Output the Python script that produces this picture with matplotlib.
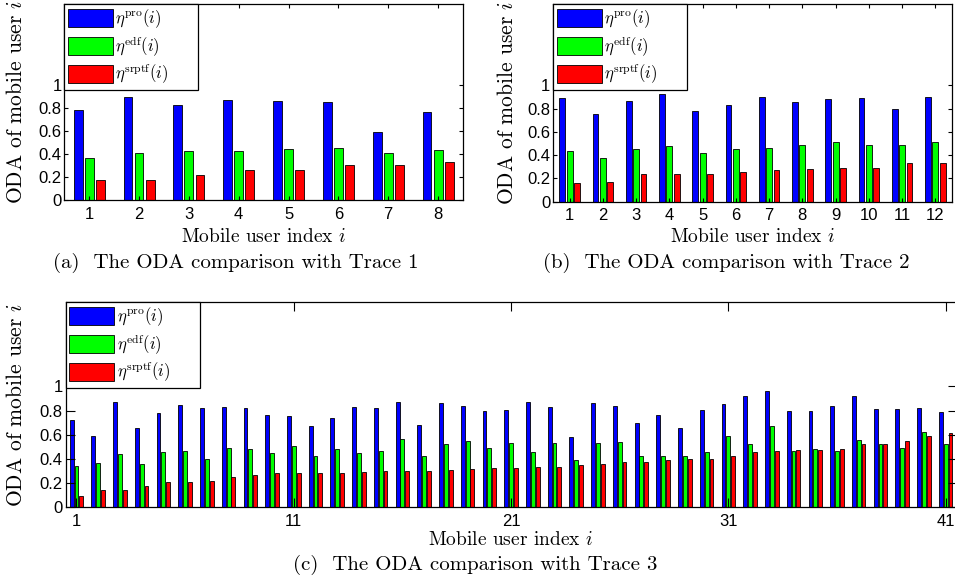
import numpy as np
import matplotlib
matplotlib.use("Agg")
import matplotlib.pyplot as plt

plt.rcParams["mathtext.fontset"] = "cm"
plt.rcParams["font.family"] = ["Liberation Sans", "DejaVu Sans"]
plt.rcParams["axes.unicode_minus"] = False

# --- data ---
pro_1 = [0.777, 0.896, 0.826, 0.867, 0.858, 0.846, 0.586, 0.762]
edf_1 = [0.368, 0.409, 0.426, 0.429, 0.446, 0.449, 0.406, 0.432]
srptf_1 = [0.171, 0.171, 0.217, 0.258, 0.264, 0.304, 0.304, 0.328]

pro_2 = [0.894, 0.756, 0.862, 0.923, 0.776, 0.834, 0.900, 0.857, 0.880, 0.893, 0.800, 0.897]
edf_2 = [0.433, 0.378, 0.450, 0.476, 0.418, 0.453, 0.464, 0.484, 0.510, 0.490, 0.484, 0.516]
srptf_2 = [0.163, 0.169, 0.238, 0.238, 0.238, 0.255, 0.275, 0.284, 0.292, 0.292, 0.332, 0.332]

pro_3 = [0.723, 0.592, 0.874, 0.659, 0.777, 0.844, 0.824, 0.830, 0.818, 0.763,
         0.757, 0.673, 0.735, 0.827, 0.821, 0.872, 0.682, 0.866, 0.835, 0.793,
         0.804, 0.869, 0.832, 0.584, 0.860, 0.838, 0.698, 0.765, 0.654, 0.807,
         0.852, 0.919, 0.966, 0.796, 0.799, 0.841, 0.919, 0.816, 0.816, 0.824,
         0.791]
edf_3 = [0.344, 0.363, 0.439, 0.360, 0.453, 0.461, 0.397, 0.486, 0.480, 0.444,
         0.508, 0.427, 0.480, 0.444, 0.466, 0.564, 0.422, 0.522, 0.550, 0.489,
         0.531, 0.458, 0.531, 0.388, 0.534, 0.536, 0.427, 0.422, 0.427, 0.453,
         0.587, 0.525, 0.673, 0.466, 0.480, 0.464, 0.559, 0.525, 0.489, 0.620,
         0.520]
srptf_3 = [0.092, 0.145, 0.145, 0.173, 0.209, 0.209, 0.215, 0.251, 0.268, 0.279,
           0.279, 0.282, 0.285, 0.291, 0.296, 0.299, 0.302, 0.307, 0.318, 0.321,
           0.327, 0.332, 0.335, 0.346, 0.358, 0.374, 0.377, 0.388, 0.397, 0.400,
           0.422, 0.455, 0.464, 0.475, 0.475, 0.483, 0.522, 0.525, 0.547, 0.587,
           0.615]

labels = [r"$\eta^{\rm pro}(i)$", r"$\eta^{\rm edf}(i)$", r"$\eta^{\rm srptf}(i)$"]
colors = ["#0000ff", "#00ff00", "#ff0000"]
yticks = [0, 0.2, 0.4, 0.6, 0.8, 1]
yticklabels = ["0", "0.2", "0.4", "0.6", "0.8", "1"]

W, H = 955, 582
fig = plt.figure(figsize=(W / 100, H / 100), dpi=100)


def box(l, t, r, b):
    return [l / W, 1 - b / H, (r - l) / W, (b - t) / H]


def panel(rect, series, xticks, ticklen, ylab_x, xlab_y, cap_x, cap_y, caption):
    ax = fig.add_axes(rect)
    n = len(series[0])
    x = np.arange(1, n + 1)
    off, w = 0.222, 0.178
    for k, (vals, c) in enumerate(zip(series, colors)):
        ax.bar(x + (k - 1) * off, vals, width=w, color=c, edgecolor="black",
               linewidth=0.6, label=labels[k])
    ax.set_xlim(0.5, n + 0.5)
    ax.set_ylim(0, 1.7)
    ax.set_yticks(yticks)
    ax.set_yticklabels(yticklabels)
    ax.set_xticks(xticks)
    ax.tick_params(direction="in", top=True, right=True, length=ticklen,
                   width=0.8, labelsize=12, pad=2)
    ax.tick_params(axis="x", pad=5)
    for s in ax.spines.values():
        s.set_linewidth(0.9)
    ax.set_ylabel("ODA of mobile user $i$", family="cmr10", fontsize=15.5)
    ax.yaxis.set_label_coords(ylab_x, 0.5)
    ax.yaxis.label.set_va("center")
    ax.set_xlabel("Mobile user index $i$", family="cmr10", fontsize=14)
    ax.xaxis.set_label_coords(0.5, xlab_y)
    ax.xaxis.label.set_va("center")
    # legend frame is 134 px wide in the reference
    wfrac = 134 / (rect[2] * W)
    leg = ax.legend(loc="upper left", bbox_to_anchor=(0, 0, wfrac, 1), mode="expand",
                    borderaxespad=0, fontsize=12, handlelength=2.7, handleheight=1.3,
                    handletextpad=0.15, labelspacing=0.25, borderpad=0.22,
                    fancybox=False, framealpha=1, edgecolor="black")
    leg.get_frame().set_linewidth(0.9)
    fig.text(cap_x / W, 1 - cap_y / H, caption, family="cmr10", fontsize=15,
             ha="center", va="center")
    return ax


panel(box(64.3, 4, 463, 200), [pro_1, edf_1, srptf_1], range(1, 9), 3,
      (16 - 64.3) / 398.7, -0.189, 236, 263, "(a)  The ODA comparison with Trace 1")
panel(box(553, 4, 952, 201.5), [pro_2, edf_2, srptf_2], range(1, 13), 3,
      (507 - 553) / 399, -0.18, 726, 263, "(b)  The ODA comparison with Trace 2")
panel(box(65.6, 302, 956.5, 507), [pro_3, edf_3, srptf_3], [1, 11, 21, 31, 41], 6.5,
      (16 - 65.6) / 890.9, -0.16, 475, 565, "(c)  The ODA comparison with Trace 3")

fig.savefig("out.png", dpi=100)
